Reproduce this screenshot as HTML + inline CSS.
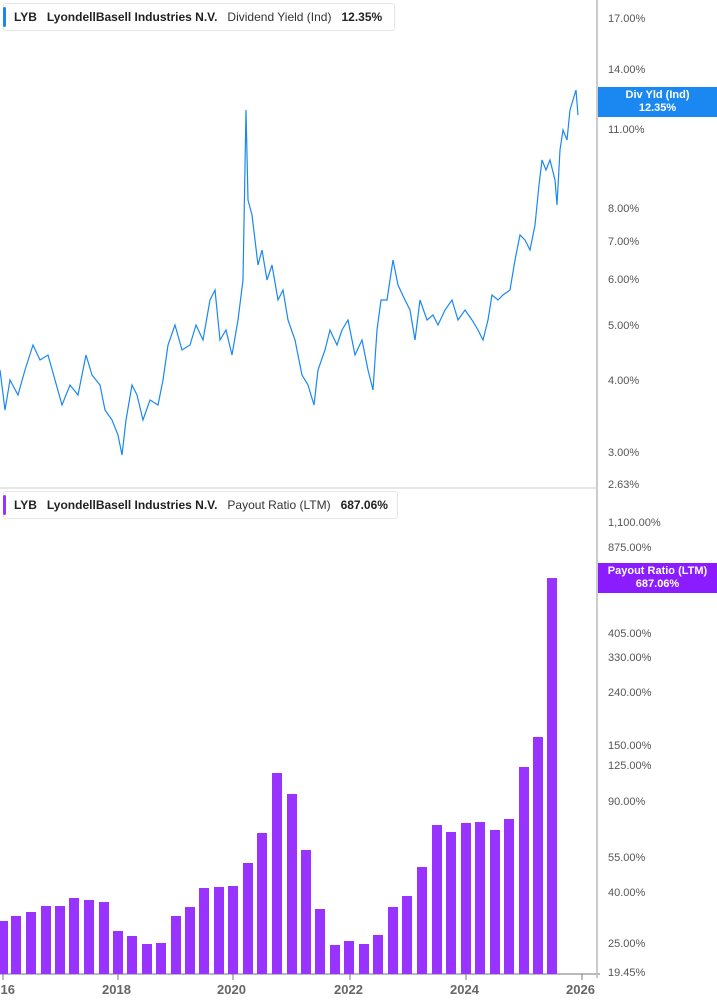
<!DOCTYPE html><html><head><style>
body{margin:0;width:717px;height:1005px;background:#fff;font-family:"Liberation Sans",sans-serif;position:relative;overflow:hidden}
.leg{position:absolute;left:3px;height:26px;border:1px solid #e6e6e6;border-radius:3px;background:#fff;font-size:12px;line-height:26px;color:#333;white-space:nowrap;padding-left:10px}
.leg b{color:#222}
.leg:before{content:"";position:absolute;left:0;top:3px;width:3px;height:20px;border-radius:2px}
.t{position:absolute;left:608px;font-size:11px;color:#555}
.box{position:absolute;left:598px;width:119px;height:30px;color:#fff;font-size:11px;font-weight:bold;text-align:center;line-height:13px;padding-top:2px;box-sizing:border-box}
.yr{position:absolute;top:982px;font-size:13px;font-weight:bold;color:#666}
</style></head><body>
<svg width="717" height="1005" style="position:absolute;left:0;top:0">
<line x1="597" y1="0" x2="597" y2="978" stroke="#999"/>
<line x1="0" y1="488" x2="597" y2="488" stroke="#ccc"/>
<line x1="0" y1="974" x2="600" y2="974" stroke="#bbb" stroke-width="2"/>
<g stroke="#777">
<line x1="3" y1="974" x2="3" y2="980"/><line x1="118" y1="974" x2="118" y2="980"/><line x1="233" y1="974" x2="233" y2="980"/><line x1="350" y1="974" x2="350" y2="980"/><line x1="466" y1="974" x2="466" y2="980"/><line x1="582" y1="974" x2="582" y2="980"/>
</g>
<polyline fill="none" stroke="#1a88f0" stroke-width="1.2" points="0,370 5,410 10,380 18,395 25,370 33,345 40,360 48,355 55,380 62,405 70,385 78,395 86,355 92,375 100,385 105,410 112,420 118,435 122,455 126,420 132,385 137,395 143,420 150,400 158,405 163,380 168,345 175,325 182,350 190,345 196,325 203,340 210,300 215,290 220,340 226,330 232,355 238,320 243,280 246,110 248,200 252,215 255,240 258,265 262,250 267,280 272,265 278,300 283,290 288,320 295,340 302,375 308,385 314,405 318,370 325,350 330,330 337,345 342,330 348,320 355,355 362,340 368,370 373,390 377,330 381,300 387,300 393,260 398,285 405,300 410,310 415,340 420,300 427,320 433,315 438,325 445,310 452,300 458,320 465,310 472,320 478,330 483,340 488,320 492,295 498,300 503,295 510,290 515,260 520,235 525,240 530,250 535,225 539,185 542,160 546,170 550,160 555,180 557,205 560,150 563,130 567,140 570,110 573,100 576,90 578,115"/>
<g fill="#9933ff">
<rect x="-2" y="921" width="10" height="53"/><rect x="11" y="916" width="10" height="58"/><rect x="26" y="912" width="10" height="62"/><rect x="41" y="906" width="10" height="68"/><rect x="55" y="906" width="10" height="68"/><rect x="69" y="898" width="10" height="76"/><rect x="84" y="900" width="10" height="74"/><rect x="99" y="902" width="10" height="72"/><rect x="113" y="931" width="10" height="43"/><rect x="127" y="936" width="10" height="38"/><rect x="142" y="944" width="10" height="30"/><rect x="156" y="943" width="10" height="31"/><rect x="171" y="916" width="10" height="58"/><rect x="185" y="907" width="10" height="67"/><rect x="199" y="888" width="10" height="86"/><rect x="214" y="887" width="10" height="87"/><rect x="228" y="886" width="10" height="88"/><rect x="243" y="863" width="10" height="111"/><rect x="257" y="833" width="10" height="141"/><rect x="272" y="773" width="10" height="201"/><rect x="287" y="794" width="10" height="180"/><rect x="301" y="850" width="10" height="124"/><rect x="315" y="909" width="10" height="65"/><rect x="330" y="945" width="10" height="29"/><rect x="344" y="941" width="10" height="33"/><rect x="359" y="944" width="10" height="30"/><rect x="373" y="935" width="10" height="39"/><rect x="388" y="907" width="10" height="67"/><rect x="402" y="896" width="10" height="78"/><rect x="417" y="867" width="10" height="107"/><rect x="432" y="825" width="10" height="149"/><rect x="446" y="832" width="10" height="142"/><rect x="461" y="823" width="10" height="151"/><rect x="475" y="822" width="10" height="152"/><rect x="490" y="830" width="10" height="144"/><rect x="504" y="819" width="10" height="155"/><rect x="519" y="767" width="10" height="207"/><rect x="533" y="737" width="10" height="237"/><rect x="547" y="578" width="10" height="396"/>
</g>
</svg>
<div class="leg" style="top:3px;width:380px"><style>.l1:before{}</style><b>LYB</b>&nbsp;&nbsp;&nbsp;<b>LyondellBasell Industries N.V.</b>&nbsp;&nbsp;&nbsp;Dividend Yield (Ind)&nbsp;&nbsp;&nbsp;<b>12.35%</b></div>
<div style="position:absolute;left:3px;top:7px;width:3px;height:20px;background:#1a88f0;border-radius:2px"></div>
<div class="leg" style="top:491px;width:383px"><b>LYB</b>&nbsp;&nbsp;&nbsp;<b>LyondellBasell Industries N.V.</b>&nbsp;&nbsp;&nbsp;Payout Ratio (LTM)&nbsp;&nbsp;&nbsp;<b>687.06%</b></div>
<div style="position:absolute;left:3px;top:495px;width:3px;height:20px;background:#9933ff;border-radius:2px"></div>
<div class="t" style="top:13px">17.00%</div>
<div class="t" style="top:64px">14.00%</div>
<div class="t" style="top:124px">11.00%</div>
<div class="t" style="top:203px">8.00%</div>
<div class="t" style="top:236px">7.00%</div>
<div class="t" style="top:274px">6.00%</div>
<div class="t" style="top:320px">5.00%</div>
<div class="t" style="top:375px">4.00%</div>
<div class="t" style="top:447px">3.00%</div>
<div class="t" style="top:479px">2.63%</div>
<div class="t" style="top:517px">1,100.00%</div>
<div class="t" style="top:542px">875.00%</div>
<div class="t" style="top:628px">405.00%</div>
<div class="t" style="top:652px">330.00%</div>
<div class="t" style="top:687px">240.00%</div>
<div class="t" style="top:740px">150.00%</div>
<div class="t" style="top:760px">125.00%</div>
<div class="t" style="top:796px">90.00%</div>
<div class="t" style="top:852px">55.00%</div>
<div class="t" style="top:887px">40.00%</div>
<div class="t" style="top:938px">25.00%</div>
<div class="t" style="top:967px">19.45%</div>
<div class="box" style="top:87px;background:#1a88f0">Div Yld (Ind)<br>12.35%</div>
<div class="box" style="top:563px;background:#8a1cff">Payout Ratio (LTM)<br>687.06%</div>
<div class="yr" style="left:-14px">2016</div>
<div class="yr" style="left:102px">2018</div>
<div class="yr" style="left:217px">2020</div>
<div class="yr" style="left:334px">2022</div>
<div class="yr" style="left:450px">2024</div>
<div class="yr" style="left:566px">2026</div>
</body></html>
